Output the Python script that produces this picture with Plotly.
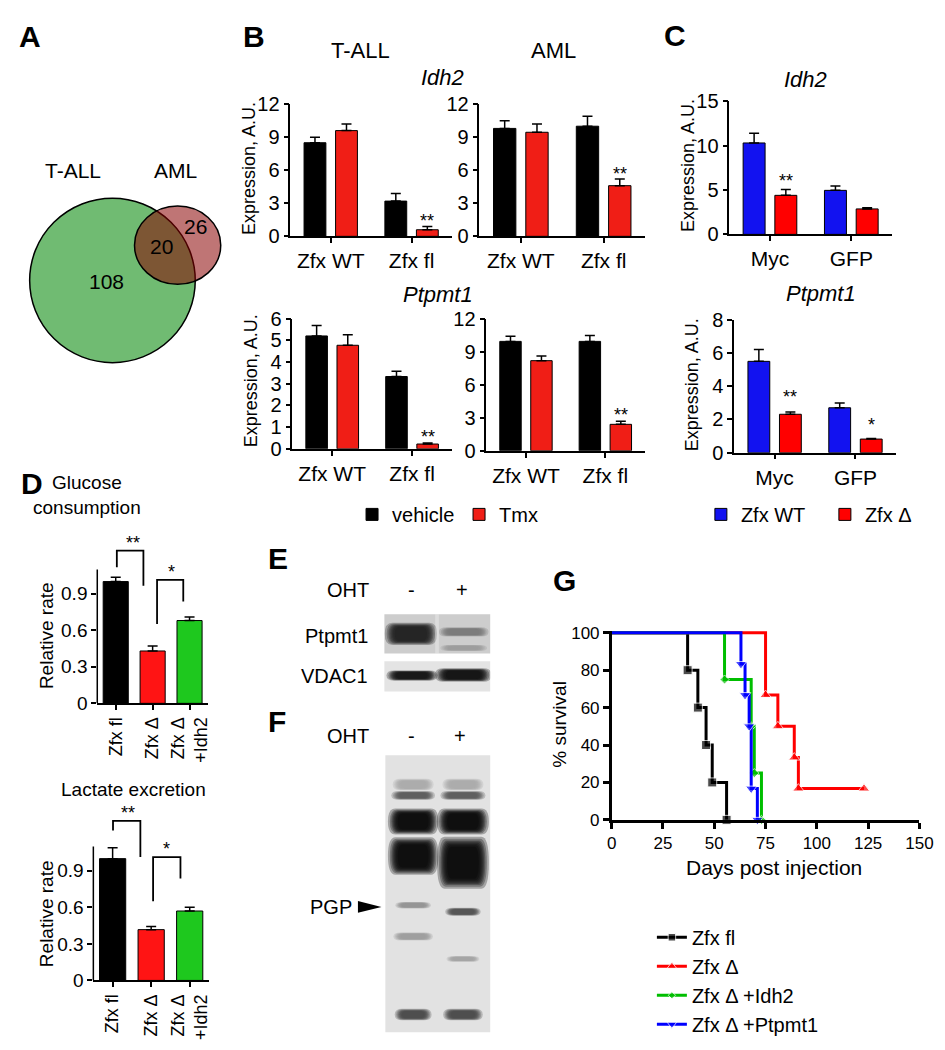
import plotly.graph_objects as go

W, H = 945, 1050
FONT = "Arial, Liberation Sans, Helvetica, sans-serif"


def X(px):
    return px / W


def Y(py):
    return 1 - py / H


# ---------------------------------------------------------------- DATA
# Panel A (Venn)
venn_sets = ["T-ALL", "AML"]
venn_tall_only = 108
venn_overlap = 20
venn_aml_only = 26

# Panel B
b_categories = ["Zfx WT", "Zfx fl"]
b_series = ["vehicle", "Tmx"]
b_idh2_tall_vehicle = [8.5, 3.2]
b_idh2_tall_vehicle_err = [0.5, 0.7]
b_idh2_tall_tmx = [9.6, 0.6]
b_idh2_tall_tmx_err = [0.6, 0.3]
b_idh2_aml_vehicle = [9.8, 10.0]
b_idh2_aml_vehicle_err = [0.7, 0.9]
b_idh2_aml_tmx = [9.45, 4.6]
b_idh2_aml_tmx_err = [0.75, 0.6]
b_ptpmt1_tall_vehicle = [5.2, 3.33]
b_ptpmt1_tall_vehicle_err = [0.48, 0.24]
b_ptpmt1_tall_tmx = [4.77, 0.22]
b_ptpmt1_tall_tmx_err = [0.48, 0.05]
b_ptpmt1_aml_vehicle = [9.93, 9.93]
b_ptpmt1_aml_vehicle_err = [0.47, 0.53]
b_ptpmt1_aml_tmx = [8.18, 2.4]
b_ptpmt1_aml_tmx_err = [0.42, 0.27]

# Panel C
c_categories = ["Myc", "GFP"]
c_series = ["Zfx WT", "Zfx Δ"]
c_idh2_wt = [10.3, 4.96]
c_idh2_wt_err = [1.1, 0.48]
c_idh2_del = [4.4, 2.87]
c_idh2_del_err = [0.67, 0.13]
c_ptpmt1_wt = [5.49, 2.7]
c_ptpmt1_wt_err = [0.71, 0.28]
c_ptpmt1_del = [2.31, 0.82]
c_ptpmt1_del_err = [0.14, 0.04]

# Panel D
d_categories = ["Zfx fl", "Zfx Δ", "Zfx Δ<br>+Idh2"]
d_glucose = [1.0, 0.43, 0.68]
d_glucose_err = [0.035, 0.04, 0.03]
d_lactate = [1.0, 0.417, 0.57]
d_lactate_err = [0.09, 0.025, 0.03]

# Panel E / F  blot bands: (lane, position 0=top..1=bottom, half-height, half-width, darkness)
blot_lanes = ["-", "+"]
e_ptpmt1_bands = [(0.0, 0.50, 0.22, 0.38, 0.85), (1.0, 0.45, 0.09, 0.36, 0.32),
                  (1.0, 0.86, 0.06, 0.34, 0.12)]
e_vdac1_bands = [(0.02, 0.47, 0.13, 0.37, 0.95), (0.99, 0.45, 0.17, 0.41, 0.97)]
f_bands = [(0.03, 0.106, 0.016, 0.30, 0.12), (0.98, 0.106, 0.016, 0.30, 0.12),
           (0.03, 0.145, 0.012, 0.32, 0.55), (0.98, 0.145, 0.012, 0.33, 0.55),
           (0.03, 0.239, 0.036, 0.37, 1.0), (0.98, 0.239, 0.036, 0.38, 1.0),
           (0.03, 0.364, 0.052, 0.37, 1.0), (0.98, 0.388, 0.072, 0.38, 1.0),
           (0.03, 0.541, 0.009, 0.26, 0.25), (0.98, 0.565, 0.011, 0.26, 0.60),
           (0.03, 0.654, 0.011, 0.29, 0.20), (0.98, 0.735, 0.008, 0.24, 0.15),
           (0.03, 0.936, 0.016, 0.27, 0.65), (0.98, 0.936, 0.016, 0.29, 0.65)]

# Panel G (Kaplan-Meier)
g_names = ["Zfx fl", "Zfx Δ", "Zfx Δ +Idh2", "Zfx Δ +Ptpmt1"]
g_fl_days = [0, 37, 42, 46, 49, 56]
g_fl_surv = [100, 80, 60, 40, 20, 0]
g_del_days = [0, 75, 81, 89, 91, 123]
g_del_surv = [100, 66.7, 50, 33.3, 16.7, 16.7]
g_idh2_days = [0, 55, 68, 69.5, 73]
g_idh2_surv = [100, 75, 50, 25, 0]
g_ptpmt1_days = [0, 63, 65, 67, 68, 71]
g_ptpmt1_surv = [100, 83.3, 66.7, 50, 16.7, 0]
g_xticks = [0, 25, 50, 75, 100, 125, 150]
g_yticks = [0, 20, 40, 60, 80, 100]

# ---------------------------------------------------------------- FIGURE
fig = go.Figure()
layout_axes = {}
shapes = []
annotations = []
_axis_n = [0]


def new_axes(xpx, ypx, xkw, ykw):
    _axis_n[0] += 1
    n = _axis_n[0]
    sfx = "" if n == 1 else str(n)
    layout_axes["xaxis" + sfx] = dict(domain=[X(xpx[0]), X(xpx[1])], anchor="y" + sfx, **xkw)
    layout_axes["yaxis" + sfx] = dict(domain=[Y(ypx[1]), Y(ypx[0])], anchor="x" + sfx, **ykw)
    return "x" + sfx, "y" + sfx


def ann(text, x, y, size=20, xanchor="center", yanchor="middle", xref="paper", yref="paper",
        textangle=0, **kw):
    annotations.append(dict(text=text, x=x, y=y, xref=xref, yref=yref, xanchor=xanchor,
                            yanchor=yanchor, showarrow=False, textangle=textangle,
                            font=dict(size=size, color="black", family=FONT), **kw))


def bar_xaxis(cats, size=21, angle=0, lw=1.5):
    return dict(range=[-0.5, len(cats) - 0.5], tickvals=list(range(len(cats))), ticktext=cats,
                showline=True, linecolor="black", linewidth=lw, ticks="outside", ticklen=5,
                tickwidth=1.5, tickcolor="black", tickfont=dict(size=size, color="black"),
                showgrid=False, zeroline=False, tickangle=angle, fixedrange=True)


def bar_yaxis(rng, tickvals, ticktext=None, size=20, showline=True):
    d = dict(range=rng, tickvals=tickvals, showline=showline, linecolor="black", linewidth=1.5,
             ticks="outside", ticklen=5, tickwidth=1.5, tickcolor="black",
             tickfont=dict(size=size, color="black"), showgrid=False, zeroline=False,
             fixedrange=True)
    if ticktext is not None:
        d["ticktext"] = ticktext
    return d


RED_B = "rgb(240,30,22)"
RED_C = "rgb(255,0,0)"
BLUE = "rgb(18,18,240)"
BAR_W = 0.27
OFFS = [-0.33, 0.06]


def grouped(xr, yr, cats, vals, errs, colors, names, legend, showlegend):
    for i in range(2):
        fig.add_trace(go.Bar(
            x=list(range(len(cats))), y=vals[i], name=names[i], width=BAR_W, offset=OFFS[i],
            marker=dict(color=colors[i], line=dict(color="black", width=1)),
            error_y=dict(type="data", array=errs[i], arrayminus=[0] * len(errs[i]),
                         symmetric=False, color="black", thickness=1.5, width=5),
            xaxis=xr, yaxis=yr, legend=legend, legendgroup=legend + names[i],
            showlegend=showlegend, hoverinfo="skip"))


def star(xr, yr, x, y, text, dy):
    ann(text, x, y, size=18, xref=xr, yref=yr, yanchor="middle", yshift=dy)


# ---------------- Panel A : Venn
ax, ay = new_axes((0, 220), (140, 360),
                  dict(range=[0, 220], visible=False, fixedrange=True),
                  dict(range=[360, 140], visible=False, fixedrange=True))
shapes.append(dict(type="circle", xref=ax, yref=ay, x0=17, x1=186, y0=183, y1=351,
                   fillcolor="rgb(112,187,114)", line=dict(color="black", width=1.5)))
shapes.append(dict(type="circle", xref=ax, yref=ay, x0=124, x1=212, y0=191, y1=271,
                   fillcolor="rgba(137,0,0,0.54)", line=dict(color="black", width=1.5)))
ann(venn_sets[0], 61, 155, size=21, xref=ax, yref=ay)
ann(venn_sets[1], 166, 155, size=21, xref=ax, yref=ay)
ann(str(venn_tall_only), 95, 268, size=21, xref=ax, yref=ay)
ann(str(venn_overlap), 152, 232, size=21, xref=ax, yref=ay)
ann(str(venn_aml_only), 186, 212, size=21, xref=ax, yref=ay)

# ---------------- Panel B
b1x, b1y = new_axes((283, 448), (87, 222), bar_xaxis(b_categories),
                    bar_yaxis([0, 12], [0, 3, 6, 9, 12]))
grouped(b1x, b1y, b_categories, [b_idh2_tall_vehicle, b_idh2_tall_tmx],
        [b_idh2_tall_vehicle_err, b_idh2_tall_tmx_err], ["black", RED_B], b_series, "legend", True)
b2x, b2y = new_axes((476, 645), (87, 222), bar_xaxis(b_categories),
                    bar_yaxis([0, 12], [0, 3, 6, 9, 12]))
grouped(b2x, b2y, b_categories, [b_idh2_aml_vehicle, b_idh2_aml_tmx],
        [b_idh2_aml_vehicle_err, b_idh2_aml_tmx_err], ["black", RED_B], b_series, "legend", False)
b3x, b3y = new_axes((285, 448), (306, 439), bar_xaxis(b_categories),
                    bar_yaxis([0, 6], [0, 1, 2, 3, 4, 5, 6]))
grouped(b3x, b3y, b_categories, [b_ptpmt1_tall_vehicle, b_ptpmt1_tall_tmx],
        [b_ptpmt1_tall_vehicle_err, b_ptpmt1_tall_tmx_err], ["black", RED_B], b_series, "legend", False)
b4x, b4y = new_axes((483, 645), (306, 441), bar_xaxis(b_categories),
                    bar_yaxis([0, 12], [0, 3, 6, 9, 12]))
grouped(b4x, b4y, b_categories, [b_ptpmt1_aml_vehicle, b_ptpmt1_aml_tmx],
        [b_ptpmt1_aml_vehicle_err, b_ptpmt1_aml_tmx_err], ["black", RED_B], b_series, "legend", False)

RX = OFFS[1] + BAR_W / 2
star(b1x, b1y, 1 + RX, b_idh2_tall_tmx[1] + b_idh2_tall_tmx_err[1], "**", 5)
star(b2x, b2y, 1 + RX, b_idh2_aml_tmx[1] + b_idh2_aml_tmx_err[1], "**", 5)
star(b3x, b3y, 1 + RX, b_ptpmt1_tall_tmx[1] + b_ptpmt1_tall_tmx_err[1], "**", 6)
star(b4x, b4y, 1 + RX, b_ptpmt1_aml_tmx[1] + b_ptpmt1_aml_tmx_err[1], "**", 6)

ann("T-ALL", X(355), Y(32), size=22)
ann("AML", X(552), Y(32), size=22)
ann("<i>Idh2</i>", X(438), Y(60), size=22)
ann("<i>Ptpmt1</i>", X(434), Y(281), size=22)
ann("Expression, A.U.", X(241), Y(153), size=18, textangle=-90)
ann("Expression, A.U.", X(243), Y(370), size=18, textangle=-90)

# ---------------- Panel C
c1x, c1y = new_axes((731, 897), (84, 220), bar_xaxis(c_categories),
                    bar_yaxis([0, 15], [0, 5, 10, 15]))
grouped(c1x, c1y, c_categories, [c_idh2_wt, c_idh2_del], [c_idh2_wt_err, c_idh2_del_err],
        [BLUE, RED_C], c_series, "legend2", True)
c2x, c2y = new_axes((736, 901), (307, 443), bar_xaxis(c_categories),
                    bar_yaxis([0, 8], [0, 2, 4, 6, 8]))
grouped(c2x, c2y, c_categories, [c_ptpmt1_wt, c_ptpmt1_del], [c_ptpmt1_wt_err, c_ptpmt1_del_err],
        [BLUE, RED_C], c_series, "legend2", False)
star(c1x, c1y, 0 + RX, c_idh2_del[0] + c_idh2_del_err[0], "**", 8)
star(c2x, c2y, 0 + RX, c_ptpmt1_del[0] + c_ptpmt1_del_err[0], "**", 15)
star(c2x, c2y, 1 + RX, c_ptpmt1_del[1] + c_ptpmt1_del_err[1], "*", 13)
ann("<i>Idh2</i>", X(809), Y(62), size=22)
ann("<i>Ptpmt1</i>", X(825), Y(280), size=22)
ann("Expression, A.U.", X(689), Y(150), size=18, textangle=-90)
ann("Expression, A.U.", X(693), Y(374), size=18, textangle=-90)

# ---------------- Panel D
D_COLORS = ["black", "rgb(255,20,20)", "rgb(30,200,30)"]


def d_panel(xpx, y0px, top, vals, errs, brackets, stars_):
    per = 124.4
    xr, yr = new_axes(xpx, (y0px - top * per, y0px), bar_xaxis(d_categories, size=18, angle=-90),
                      bar_yaxis([0, top], [0, 0.3, 0.6, 0.9], ["0", "0.3", "0.6", "0.9"],
                                size=19, showline=False))
    fig.add_trace(go.Bar(x=list(range(3)), y=vals, width=0.68,
                         marker=dict(color=D_COLORS, line=dict(color="black", width=1)),
                         error_y=dict(type="data", array=errs, arrayminus=[0, 0, 0],
                                      symmetric=False, color="black", thickness=1.5, width=5),
                         xaxis=xr, yaxis=yr, showlegend=False, hoverinfo="skip"))
    shapes.append(dict(type="line", xref=xr + " domain", yref=yr, x0=0, x1=0, y0=0, y1=1.1,
                       line=dict(color="black", width=1.5)))
    for (xl, xrr, yl, yt, yrb), (txt, sx) in zip(brackets, stars_):
        fig.add_trace(go.Scatter(x=[xl, xl, xrr, xrr], y=[yl, yt, yt, yrb], mode="lines",
                                 line=dict(color="black", width=1.8), xaxis=xr, yaxis=yr,
                                 showlegend=False, hoverinfo="skip"))
        ann(txt, sx, yt, size=18, xref=xr, yref=yr, yshift=8)
    return xr, yr


d_panel((86, 199), 699, 1.4, d_glucose, d_glucose_err,
        [(0.03, 0.75, 1.117, 1.254, 0.965), (1.12, 1.83, 0.651, 1.013, 0.836)],
        [("**", 0.47), ("*", 1.5)])
d_panel((82, 200), 982, 1.45, d_lactate, d_lactate_err,
        [(0.01, 0.72, 1.23, 1.31, 1.013), (1.05, 1.76, 0.651, 1.013, 0.836)],
        [("**", 0.39), ("*", 1.4)])
ann("Glucose<br>consumption", X(76), Y(486), size=19)
ann("Lactate excretion", X(123), Y(787), size=19)
ann("Relative rate", X(35), Y(630), size=19, textangle=-90)
ann("Relative rate", X(35), Y(914), size=19, textangle=-90)

# ---------------- Panels E / F : blots


def pill(x0, x1, y0, y1, r):
    yc = (y0 + y1) / 2
    return (f"M{x0 + r},{y0} L{x1 - r},{y0} Q{x1},{y0} {x1},{yc} Q{x1},{y1} {x1 - r},{y1} "
            f"L{x0 + r},{y1} Q{x0},{y1} {x0},{yc} Q{x0},{y0} {x0 + r},{y0} Z")


BAND_LAYERS = (1.3, 1.2, 1.12, 1.06, 1.0, 0.94, 0.88, 0.8)


def blot(xpx, ypx, bands, bg, seam=False):
    xr, yr = new_axes(xpx, ypx, dict(range=[-0.5, 1.5], visible=False, fixedrange=True),
                      dict(range=[1, 0], visible=False, fixedrange=True))
    shapes.append(dict(type="rect", xref=xr + " domain", yref=yr + " domain", x0=0, x1=1, y0=0,
                       y1=1, fillcolor=f"rgb({bg},{bg},{bg})", line=dict(width=0)))
    for lane, pos, hh, hw, dark in bands:
        v = int(round(bg * (1 - dark) * 0.85))
        for k in BAND_LAYERS:
            shapes.append(dict(type="path", xref=xr, yref=yr,
                               path=pill(lane - hw * k, lane + hw * k, pos - hh * k, pos + hh * k,
                                         0.11 * k),
                               fillcolor=f"rgb({v},{v},{v})", opacity=0.28, line=dict(width=0)))
    if seam:
        shapes.append(dict(type="rect", xref=xr, yref=yr + " domain", x0=0.46, x1=0.53, y0=0,
                           y1=1, fillcolor="white", opacity=0.3, line=dict(width=0)))
    return xr, yr


blot((379, 487), (608, 648), e_ptpmt1_bands, 205, seam=True)
blot((379, 487), (656, 687), e_vdac1_bands, 228)
blot((380, 487), (752, 1035), f_bands, 226)

ann("<b>E</b>", X(270), Y(551), size=30)
ann("OHT", X(365), Y(583), size=20, xanchor="right")
ann(blot_lanes[0], X(407), Y(583), size=20)
ann(blot_lanes[1], X(458), Y(583), size=20)
ann("Ptpmt1", X(364), Y(630), size=20, xanchor="right")
ann("VDAC1", X(364), Y(671), size=20, xanchor="right")
ann("<b>F</b>", X(269), Y(718), size=30)
ann("OHT", X(365), Y(732), size=20, xanchor="right")
ann(blot_lanes[0], X(407), Y(732), size=20)
ann(blot_lanes[1], X(456), Y(732), size=20)
ann("PGP", X(348), Y(907), size=20, xanchor="right")
shapes.append(dict(type="path", xref="paper", yref="paper",
                   path=f"M{X(352)},{Y(901)} L{X(376)},{Y(907)} L{X(352)},{Y(913)} Z",
                   fillcolor="black", line=dict(width=0)))

# ---------------- Panel G
gx, gy = new_axes((611, 925), (625, 818),
                  dict(range=[0, 150], tickvals=g_xticks, showline=True, linecolor="black",
                       linewidth=2.5, ticks="outside", ticklen=6, tickwidth=2.5,
                       tickcolor="black", tickfont=dict(size=17, color="black"),
                       showgrid=False, zeroline=False, fixedrange=True),
                  dict(range=[0, 101], tickvals=g_yticks, showline=True, linecolor="black",
                       linewidth=2.5, ticks="outside", ticklen=6, tickwidth=2.5,
                       tickcolor="black", tickfont=dict(size=17, color="black"),
                       showgrid=False, zeroline=False, fixedrange=True))
g_series = [
    (g_names[0], g_fl_days, g_fl_surv, "black", "square", 9),
    (g_names[1], g_del_days, g_del_surv, "rgb(255,0,0)", "triangle-up", 10),
    (g_names[2], g_idh2_days, g_idh2_surv, "rgb(0,190,0)", "diamond", 7),
    (g_names[3], g_ptpmt1_days, g_ptpmt1_surv, "rgb(0,0,255)", "triangle-down", 10),
]
for name, d, s, col, sym, ms in g_series:
    fig.add_trace(go.Scatter(x=d, y=s, mode="lines+markers", name=name,
                             line=dict(color=col, width=3, shape="hv"),
                             marker=dict(symbol=sym, size=[0] + [ms] * (len(d) - 1), color=col),
                             xaxis=gx, yaxis=gy, legend="legend3", cliponaxis=False,
                             hoverinfo="skip"))
ann("% survival", X(558), Y(720), size=19, textangle=-90)
ann("Days post injection", X(777), Y(867), size=21)

# ---------------- panel letters
ann("<b>A</b>", X(17), Y(18), size=30)
ann("<b>B</b>", X(246), Y(18), size=30)
ann("<b>C</b>", X(676), Y(17), size=30)
ann("<b>D</b>", X(19), Y(474), size=30)
ann("<b>G</b>", X(563), Y(574), size=30)

fig.update_layout(
    width=W, height=H, margin=dict(l=0, r=0, t=0, b=0),
    paper_bgcolor="white", plot_bgcolor="white",
    font=dict(family=FONT, color="black", size=20),
    showlegend=True, barmode="group",
    shapes=shapes, annotations=annotations,
    legend=dict(orientation="h", x=X(346), y=Y(506), xanchor="left", yanchor="middle",
                font=dict(size=20, color="black"), bgcolor="rgba(0,0,0,0)", entrywidth=62),
    legend2=dict(orientation="h", x=X(702), y=Y(506), xanchor="left", yanchor="middle",
                 font=dict(size=20, color="black"), bgcolor="rgba(0,0,0,0)", entrywidth=79),
    legend3=dict(orientation="v", x=X(652), y=Y(918), xanchor="left", yanchor="top",
                 font=dict(size=20, color="black"), bgcolor="rgba(0,0,0,0)", tracegroupgap=0),
    **layout_axes,
)

fig.write_html("out.html")
